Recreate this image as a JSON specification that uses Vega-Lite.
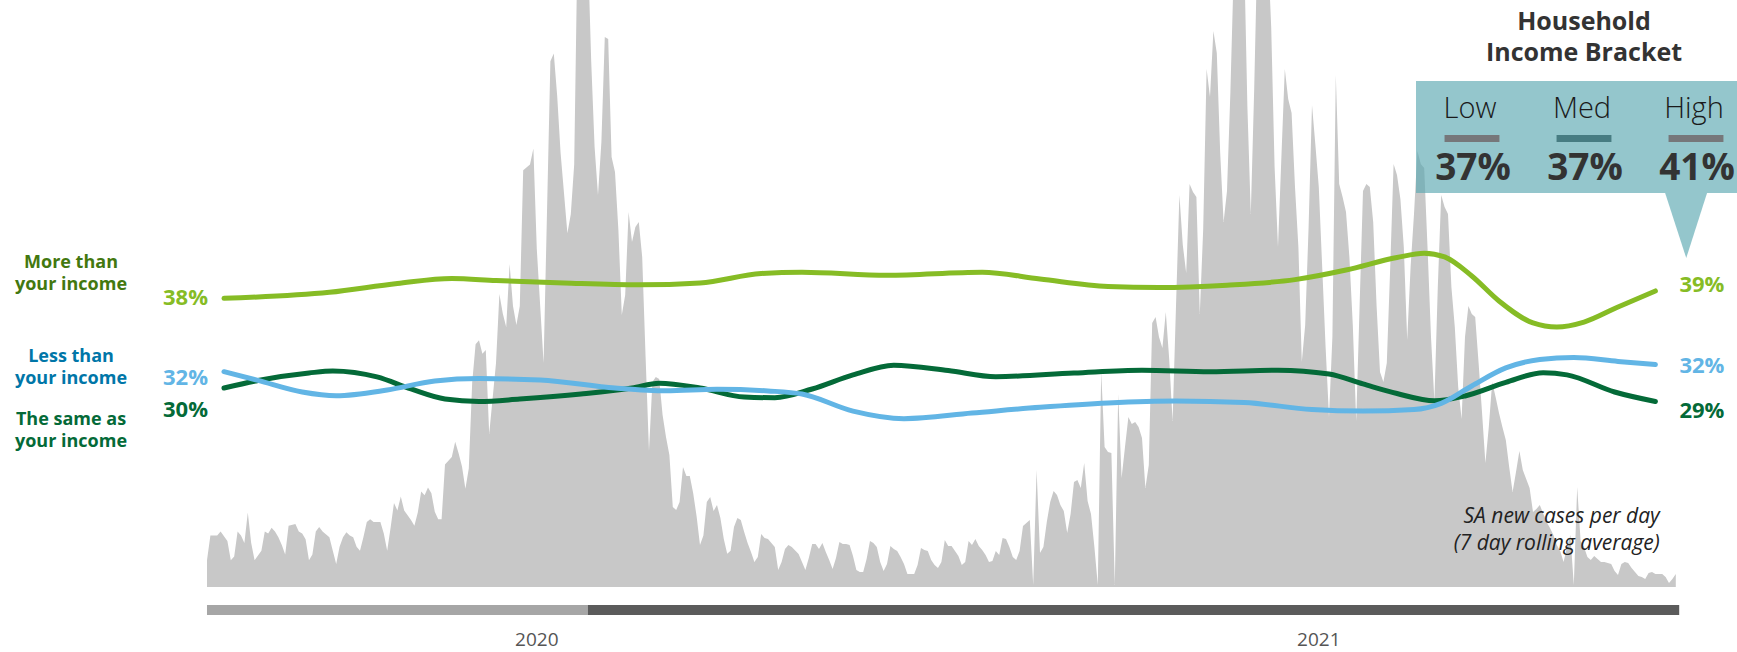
{
"$schema": "https://vega.github.io/schema/vega-lite/v6.json",
"width": 1737, "height": 652, "padding": 0,
"autosize": {"type": "fit", "contains": "padding"},
"background": "white",
"config": {"view": {"stroke": null}, "font": "Open Sans"},
"datasets": {
"cases": [
{"day":0,"cases":536},{"day":1,"cases":1032},{"day":3,"cases":1032},{"day":4,"cases":1110},{"day":6,"cases":918},{"day":7,"cases":536},{"day":8,"cases":612},{"day":9,"cases":1110},{"day":10,"cases":1032},{"day":11,"cases":880},{"day":12,"cases":1492},{"day":13,"cases":880},{"day":14,"cases":536},{"day":16,"cases":726},{"day":17,"cases":1110},{"day":18,"cases":1070},{"day":19,"cases":1186},{"day":20,"cases":1110},{"day":21,"cases":994},{"day":22,"cases":842},{"day":23,"cases":650},{"day":24,"cases":1224},{"day":26,"cases":1262},{"day":27,"cases":1110},{"day":28,"cases":1070},{"day":29,"cases":956},{"day":30,"cases":536},{"day":31,"cases":650},{"day":32,"cases":1110},{"day":33,"cases":1200},{"day":34,"cases":1110},{"day":36,"cases":994},{"day":37,"cases":726},{"day":38,"cases":458},{"day":39,"cases":804},{"day":40,"cases":994},{"day":41,"cases":1094},{"day":42,"cases":1032},{"day":43,"cases":994},{"day":44,"cases":804},{"day":45,"cases":726},{"day":46,"cases":994},{"day":47,"cases":1300},{"day":48,"cases":1354},{"day":49,"cases":1300},{"day":51,"cases":1300},{"day":52,"cases":1070},{"day":53,"cases":726},{"day":54,"cases":1186},{"day":55,"cases":1682},{"day":56,"cases":1530},{"day":57,"cases":1812},{"day":58,"cases":1530},{"day":60,"cases":1338},{"day":61,"cases":1224},{"day":62,"cases":1492},{"day":63,"cases":1912},{"day":64,"cases":1836},{"day":65,"cases":1988},{"day":66,"cases":1874},{"day":67,"cases":1506},{"day":68,"cases":1354},{"day":69,"cases":1354},{"day":70,"cases":2448},{"day":72,"cases":2600},{"day":73,"cases":2906},{"day":74,"cases":2676},{"day":75,"cases":2410},{"day":76,"cases":1966},{"day":77,"cases":2370},{"day":78,"cases":4092},{"day":79,"cases":4856},{"day":80,"cases":4934},{"day":81,"cases":4666},{"day":82,"cases":4742},{"day":83,"cases":3060},{"day":85,"cases":4474},{"day":86,"cases":5860},{"day":87,"cases":5468},{"day":88,"cases":5200},{"day":89,"cases":6462},{"day":90,"cases":5620},{"day":91,"cases":5240},{"day":92,"cases":5620},{"day":93,"cases":8336},{"day":95,"cases":8452},{"day":96,"cases":8772},{"day":97,"cases":6760},{"day":98,"cases":5620},{"day":99,"cases":4480},{"day":101,"cases":10516},{"day":102,"cases":10670},{"day":103,"cases":9820},{"day":104,"cases":8680},{"day":106,"cases":7074},{"day":107,"cases":7456},{"day":108,"cases":8452},{"day":109,"cases":13000},{"day":110,"cases":14400},{"day":111,"cases":14000},{"day":112,"cases":12800},{"day":113,"cases":10520},{"day":114,"cases":8800},{"day":115,"cases":7840},{"day":116,"cases":8900},{"day":117,"cases":11000},{"day":118,"cases":10960},{"day":119,"cases":8600},{"day":120,"cases":8300},{"day":121,"cases":7140},{"day":122,"cases":5440},{"day":123,"cases":5840},{"day":124,"cases":7500},{"day":125,"cases":6900},{"day":126,"cases":7200},{"day":127,"cases":7300},{"day":128,"cases":6600},{"day":129,"cases":4600},{"day":130,"cases":2720},{"day":131,"cases":4100},{"day":132,"cases":4200},{"day":133,"cases":4160},{"day":134,"cases":3440},{"day":135,"cases":3000},{"day":136,"cases":2640},{"day":137,"cases":1600},{"day":138,"cases":1540},{"day":139,"cases":1700},{"day":140,"cases":2400},{"day":141,"cases":2220},{"day":142,"cases":2220},{"day":143,"cases":1874},{"day":144,"cases":1414},{"day":145,"cases":842},{"day":146,"cases":1032},{"day":147,"cases":1700},{"day":148,"cases":1800},{"day":149,"cases":1520},{"day":150,"cases":1640},{"day":151,"cases":1380},{"day":152,"cases":960},{"day":153,"cases":666},{"day":154,"cases":726},{"day":155,"cases":1200},{"day":156,"cases":1380},{"day":157,"cases":1340},{"day":158,"cases":1100},{"day":159,"cases":880},{"day":160,"cases":700},{"day":161,"cases":500},{"day":162,"cases":600},{"day":163,"cases":1060},{"day":164,"cases":980},{"day":165,"cases":960},{"day":166,"cases":880},{"day":167,"cases":800},{"day":168,"cases":340},{"day":169,"cases":500},{"day":170,"cases":760},{"day":171,"cases":840},{"day":172,"cases":800},{"day":174,"cases":660},{"day":175,"cases":500},{"day":176,"cases":340},{"day":177,"cases":580},{"day":178,"cases":860},{"day":179,"cases":860},{"day":180,"cases":760},{"day":181,"cases":880},{"day":182,"cases":700},{"day":183,"cases":540},{"day":184,"cases":360},{"day":185,"cases":580},{"day":186,"cases":900},{"day":187,"cases":860},{"day":188,"cases":860},{"day":189,"cases":840},{"day":190,"cases":620},{"day":191,"cases":340},{"day":192,"cases":300},{"day":193,"cases":300},{"day":194,"cases":560},{"day":195,"cases":920},{"day":196,"cases":880},{"day":197,"cases":800},{"day":198,"cases":500},{"day":199,"cases":320},{"day":200,"cases":460},{"day":201,"cases":820},{"day":202,"cases":760},{"day":203,"cases":720},{"day":204,"cases":600},{"day":205,"cases":460},{"day":206,"cases":260},{"day":207,"cases":260},{"day":208,"cases":260},{"day":209,"cases":440},{"day":210,"cases":780},{"day":211,"cases":740},{"day":212,"cases":720},{"day":213,"cases":540},{"day":214,"cases":440},{"day":215,"cases":380},{"day":216,"cases":500},{"day":217,"cases":940},{"day":218,"cases":820},{"day":219,"cases":820},{"day":220,"cases":720},{"day":221,"cases":620},{"day":222,"cases":440},{"day":223,"cases":500},{"day":224,"cases":920},{"day":225,"cases":840},{"day":226,"cases":960},{"day":227,"cases":820},{"day":228,"cases":740},{"day":229,"cases":640},{"day":230,"cases":500},{"day":231,"cases":520},{"day":232,"cases":720},{"day":233,"cases":640},{"day":234,"cases":980},{"day":235,"cases":960},{"day":236,"cases":800},{"day":237,"cases":600},{"day":238,"cases":540},{"day":239,"cases":720},{"day":240,"cases":1220},{"day":241,"cases":1280},{"day":242,"cases":1340},{"day":243,"cases":40},{"day":244,"cases":2340},{"day":245,"cases":680},{"day":246,"cases":800},{"day":247,"cases":1300},{"day":248,"cases":1700},{"day":249,"cases":1920},{"day":250,"cases":1840},{"day":251,"cases":1640},{"day":252,"cases":1520},{"day":253,"cases":1080},{"day":254,"cases":1460},{"day":255,"cases":2100},{"day":256,"cases":2140},{"day":257,"cases":1980},{"day":258,"cases":2480},{"day":259,"cases":1720},{"day":260,"cases":1460},{"day":261,"cases":800},{"day":262,"cases":40},{"day":263,"cases":4300},{"day":264,"cases":2800},{"day":265,"cases":2700},{"day":266,"cases":2680},{"day":267,"cases":40},{"day":268,"cases":3860},{"day":269,"cases":2180},{"day":270,"cases":2800},{"day":271,"cases":3400},{"day":272,"cases":3260},{"day":273,"cases":3300},{"day":274,"cases":3200},{"day":275,"cases":2980},{"day":276,"cases":1980},{"day":277,"cases":2440},{"day":278,"cases":5280},{"day":279,"cases":5400},{"day":280,"cases":5000},{"day":281,"cases":4780},{"day":282,"cases":5500},{"day":283,"cases":4560},{"day":284,"cases":3320},{"day":285,"cases":5620},{"day":286,"cases":7840},{"day":287,"cases":6840},{"day":288,"cases":6280},{"day":289,"cases":8060},{"day":290,"cases":7900},{"day":291,"cases":7800},{"day":292,"cases":5460},{"day":293,"cases":7160},{"day":294,"cases":10360},{"day":295,"cases":9800},{"day":296,"cases":11120},{"day":297,"cases":10680},{"day":298,"cases":8680},{"day":299,"cases":7300},{"day":300,"cases":7920},{"day":301,"cases":9900},{"day":302,"cases":12400},{"day":303,"cases":14000},{"day":304,"cases":13800},{"day":305,"cases":12800},{"day":306,"cases":9600},{"day":307,"cases":7460},{"day":308,"cases":9960},{"day":309,"cases":13000},{"day":310,"cases":14400},{"day":311,"cases":14000},{"day":312,"cases":12800},{"day":313,"cases":11200},{"day":314,"cases":8400},{"day":315,"cases":6800},{"day":316,"cases":8600},{"day":317,"cases":10360},{"day":318,"cases":9760},{"day":319,"cases":9480},{"day":320,"cases":8000},{"day":321,"cases":6800},{"day":322,"cases":4500},{"day":323,"cases":5240},{"day":324,"cases":7200},{"day":325,"cases":9640},{"day":326,"cases":8840},{"day":327,"cases":8000},{"day":328,"cases":6400},{"day":329,"cases":4800},{"day":330,"cases":3400},{"day":331,"cases":5000},{"day":332,"cases":10240},{"day":333,"cases":8060},{"day":334,"cases":7800},{"day":335,"cases":7500},{"day":336,"cases":6600},{"day":337,"cases":5240},{"day":338,"cases":3320},{"day":339,"cases":5620},{"day":340,"cases":7920},{"day":341,"cases":8060},{"day":342,"cases":8000},{"day":343,"cases":7300},{"day":344,"cases":5620},{"day":345,"cases":4300},{"day":346,"cases":4100},{"day":347,"cases":4480},{"day":348,"cases":6380},{"day":349,"cases":8460},{"day":350,"cases":8240},{"day":351,"cases":7760},{"day":352,"cases":6800},{"day":353,"cases":4940},{"day":354,"cases":6400},{"day":355,"cases":7460},{"day":356,"cases":8720},{"day":357,"cases":8460},{"day":358,"cases":8380},{"day":359,"cases":6760},{"day":360,"cases":5000},{"day":361,"cases":3720},{"day":362,"cases":6000},{"day":363,"cases":7840},{"day":364,"cases":7600},{"day":365,"cases":7460},{"day":366,"cases":6000},{"day":367,"cases":5200},{"day":368,"cases":4000},{"day":369,"cases":3360},{"day":370,"cases":5000},{"day":371,"cases":5620},{"day":372,"cases":5460},{"day":373,"cases":5400},{"day":374,"cases":4480},{"day":375,"cases":3500},{"day":376,"cases":2480},{"day":377,"cases":3200},{"day":378,"cases":4100},{"day":379,"cases":3800},{"day":380,"cases":3480},{"day":381,"cases":3200},{"day":382,"cases":2940},{"day":383,"cases":2400},{"day":384,"cases":1900},{"day":385,"cases":2300},{"day":386,"cases":2720},{"day":387,"cases":2340},{"day":388,"cases":2160},{"day":389,"cases":1980},{"day":390,"cases":1500},{"day":391,"cases":1560},{"day":392,"cases":1640},{"day":394,"cases":1300},{"day":395,"cases":1180},{"day":396,"cases":1040},{"day":397,"cases":840},{"day":398,"cases":720},{"day":399,"cases":500},{"day":400,"cases":800},{"day":401,"cases":1040},{"day":402,"cases":40},{"day":403,"cases":2000},{"day":404,"cases":920},{"day":405,"cases":800},{"day":406,"cases":600},{"day":407,"cases":540},{"day":408,"cases":620},{"day":409,"cases":560},{"day":410,"cases":500},{"day":411,"cases":500},{"day":412,"cases":480},{"day":413,"cases":460},{"day":414,"cases":320},{"day":415,"cases":240},{"day":416,"cases":460},{"day":417,"cases":500},{"day":418,"cases":480},{"day":419,"cases":380},{"day":420,"cases":300},{"day":421,"cases":220},{"day":422,"cases":200},{"day":423,"cases":160},{"day":424,"cases":280},{"day":425,"cases":300},{"day":426,"cases":260},{"day":427,"cases":260},{"day":428,"cases":260},{"day":429,"cases":200},{"day":430,"cases":80},{"day":431,"cases":160},{"day":432,"cases":260}
],
"sentiment": [
{"series":"The same as your income","day":5,"pct":0.3029},{"series":"The same as your income","day":15,"pct":0.3094},{"series":"The same as your income","day":30,"pct":0.3158},{"series":"The same as your income","day":37,"pct":0.3175},{"series":"The same as your income","day":50,"pct":0.3124},{"series":"The same as your income","day":60,"pct":0.3021},{"series":"The same as your income","day":70,"pct":0.2935},{"series":"The same as your income","day":80,"pct":0.2914},{"series":"The same as your income","day":92,"pct":0.2935},{"series":"The same as your income","day":110,"pct":0.2978},{"series":"The same as your income","day":125,"pct":0.3029},{"series":"The same as your income","day":133,"pct":0.3070},{"series":"The same as your income","day":145,"pct":0.3029},{"series":"The same as your income","day":158,"pct":0.2952},{"series":"The same as your income","day":167,"pct":0.2946},{"series":"The same as your income","day":178,"pct":0.3021},{"series":"The same as your income","day":190,"pct":0.3141},{"series":"The same as your income","day":202,"pct":0.3225},{"series":"The same as your income","day":218,"pct":0.3179},{"series":"The same as your income","day":232,"pct":0.3126},{"series":"The same as your income","day":255,"pct":0.3158},{"series":"The same as your income","day":275,"pct":0.3182},{"series":"The same as your income","day":295,"pct":0.3169},{"series":"The same as your income","day":315,"pct":0.3182},{"series":"The same as your income","day":330,"pct":0.3149},{"series":"The same as your income","day":340,"pct":0.3064},{"series":"The same as your income","day":350,"pct":0.2982},{"series":"The same as your income","day":361,"pct":0.2920},{"series":"The same as your income","day":370,"pct":0.2961},{"series":"The same as your income","day":382,"pct":0.3077},{"series":"The same as your income","day":393,"pct":0.3160},{"series":"The same as your income","day":400,"pct":0.3142},{"series":"The same as your income","day":414,"pct":0.2995},{"series":"The same as your income","day":426,"pct":0.2914},
{"series":"Less than your income","day":5,"pct":0.3169},{"series":"Less than your income","day":15,"pct":0.3094},{"series":"Less than your income","day":28,"pct":0.2995},{"series":"Less than your income","day":38,"pct":0.2963},{"series":"Less than your income","day":53,"pct":0.3012},{"series":"Less than your income","day":67,"pct":0.3089},{"series":"Less than your income","day":80,"pct":0.3110},{"series":"Less than your income","day":98,"pct":0.3098},{"series":"Less than your income","day":120,"pct":0.3029},{"series":"Less than your income","day":135,"pct":0.3005},{"series":"Less than your income","day":150,"pct":0.3018},{"series":"Less than your income","day":165,"pct":0.3004},{"series":"Less than your income","day":175,"pct":0.2978},{"series":"Less than your income","day":190,"pct":0.2832},{"series":"Less than your income","day":205,"pct":0.2767},{"series":"Less than your income","day":225,"pct":0.2815},{"series":"Less than your income","day":245,"pct":0.2864},{"series":"Less than your income","day":265,"pct":0.2901},{"series":"Less than your income","day":285,"pct":0.2918},{"series":"Less than your income","day":305,"pct":0.2905},{"series":"Less than your income","day":325,"pct":0.2845},{"series":"Less than your income","day":340,"pct":0.2832},{"series":"Less than your income","day":355,"pct":0.2845},{"series":"Less than your income","day":363,"pct":0.2898},{"series":"Less than your income","day":372,"pct":0.3047},{"series":"Less than your income","day":382,"pct":0.3201},{"series":"Less than your income","day":392,"pct":0.3273},{"series":"Less than your income","day":402,"pct":0.3290},{"series":"Less than your income","day":415,"pct":0.3257},{"series":"Less than your income","day":426,"pct":0.3230},
{"series":"More than your income","day":5,"pct":0.3797},{"series":"More than your income","day":36,"pct":0.3848},{"series":"More than your income","day":56,"pct":0.3924},{"series":"More than your income","day":72,"pct":0.3967},{"series":"More than your income","day":85,"pct":0.3949},{"series":"More than your income","day":105,"pct":0.3928},{"series":"More than your income","day":127,"pct":0.3912},{"series":"More than your income","day":145,"pct":0.3928},{"series":"More than your income","day":163,"pct":0.4009},{"series":"More than your income","day":175,"pct":0.4020},{"series":"More than your income","day":200,"pct":0.3994},{"series":"More than your income","day":228,"pct":0.4020},{"series":"More than your income","day":245,"pct":0.3962},{"series":"More than your income","day":265,"pct":0.3898},{"series":"More than your income","day":280,"pct":0.3889},{"series":"More than your income","day":300,"pct":0.3909},{"series":"More than your income","day":320,"pct":0.3957},{"series":"More than your income","day":335,"pct":0.4039},{"series":"More than your income","day":350,"pct":0.4146},{"series":"More than your income","day":358,"pct":0.4183},{"series":"More than your income","day":364,"pct":0.4151},{"series":"More than your income","day":372,"pct":0.3988},{"series":"More than your income","day":380,"pct":0.3774},{"series":"More than your income","day":390,"pct":0.3586},{"series":"More than your income","day":397,"pct":0.3551},{"series":"More than your income","day":405,"pct":0.3594},{"series":"More than your income","day":415,"pct":0.3723},{"series":"More than your income","day":426,"pct":0.3860}
],
"years": [{"year":"2020","start":0,"end":112},{"year":"2021","start":112,"end":433}],
"brackets": [{"bracket":"Low","pct":0.37},{"bracket":"Med","pct":0.37},{"bracket":"High","pct":0.41}]
},
"layer": [
{
"layer": [
{"data":{"name":"cases"},"mark":{"type":"area","color":"#c8c8c8","clip":true,"interpolate":"linear"},
 "encoding":{"x":{"field":"day","type":"quantitative","scale":{"domain":[-60.88,450],"nice":false,"zero":false},"axis":null},
 "y":{"field":"cases","type":"quantitative","scale":{"domain":[-1300,11740],"nice":false,"zero":false},"axis":null}}},
{"data":{"name":"years"},"mark":{"type":"rect"},
 "encoding":{"x":{"field":"start","type":"quantitative","scale":{"domain":[-60.88,450],"nice":false,"zero":false},"axis":null},"x2":{"field":"end"},
 "y":{"datum":-360,"type":"quantitative","scale":{"domain":[-1300,11740],"nice":false,"zero":false},"axis":null},"y2":{"datum":-560},
 "color":{"field":"year","type":"nominal","scale":{"domain":["2020","2021"],"range":["#a6a6a6","#5b5b5b"]},"legend":null}}},
{"data":{"name":"years"},"transform":[{"filter":"datum.year == '2020'"}],"mark":{"type":"text","fontSize":19,"color":"#555555","baseline":"middle","align":"center"},
 "encoding":{"x":{"datum":97,"type":"quantitative","scale":{"domain":[-60.88,450],"nice":false,"zero":false},"axis":null},
 "y":{"datum":-1060,"type":"quantitative","scale":{"domain":[-1300,11740],"nice":false,"zero":false},"axis":null},"text":{"field":"year"}}},
{"data":{"name":"years"},"transform":[{"filter":"datum.year == '2021'"}],"mark":{"type":"text","fontSize":19,"color":"#555555","baseline":"middle","align":"center"},
 "encoding":{"x":{"datum":327,"type":"quantitative","scale":{"domain":[-60.88,450],"nice":false,"zero":false},"axis":null},
 "y":{"datum":-1060,"type":"quantitative","scale":{"domain":[-1300,11740],"nice":false,"zero":false},"axis":null},"text":{"field":"year"}}},
{"data":{"name":"cases"},"transform":[{"filter":"datum.day == 432"}],"mark":{"type":"text","align":"right","baseline":"middle","dx":-16,"dy":-57,"fontSize":21,"fontStyle":"italic","color":"#222222","lineHeight":27},
 "encoding":{"x":{"field":"day","type":"quantitative","scale":{"domain":[-60.88,450],"nice":false,"zero":false},"axis":null},
 "y":{"field":"cases","type":"quantitative","scale":{"domain":[-1300,11740],"nice":false,"zero":false},"axis":null},
 "text":{"value":["SA new cases per day","(7 day rolling average)"]}}}
]
},
{
"data":{"name":"sentiment"},
"encoding":{"x":{"field":"day","type":"quantitative","scale":{"domain":[-60.88,450],"nice":false,"zero":false},"axis":null},
 "y":{"field":"pct","type":"quantitative","scale":{"domain":[0.077,0.635],"nice":false,"zero":false},"axis":null}},
"layer": [
{"mark":{"type":"line","interpolate":"monotone","strokeWidth":5,"strokeCap":"round"},
 "encoding":{"color":{"field":"series","type":"nominal","scale":{"domain":["The same as your income","Less than your income","More than your income"],"range":["#046a38","#62b5e5","#86bc25"]},"legend":null}}},
{"transform":[{"filter":"datum.series == 'More than your income' && datum.day == 5"}],"mark":{"type":"text","align":"right","baseline":"middle","dx":-16,"dy":0,"fontSize":22,"fontWeight":"bold","color":"#86bc25"},"encoding":{"text":{"field":"pct","type":"quantitative","format":".0%"}}},
{"transform":[{"filter":"datum.series == 'Less than your income' && datum.day == 5"}],"mark":{"type":"text","align":"right","baseline":"middle","dx":-16,"dy":6,"fontSize":22,"fontWeight":"bold","color":"#62b5e5"},"encoding":{"text":{"field":"pct","type":"quantitative","format":".0%"}}},
{"transform":[{"filter":"datum.series == 'The same as your income' && datum.day == 5"}],"mark":{"type":"text","align":"right","baseline":"middle","dx":-16,"dy":22,"fontSize":22,"fontWeight":"bold","color":"#046a38"},"encoding":{"text":{"field":"pct","type":"quantitative","format":".0%"}}},
{"transform":[{"filter":"datum.series == 'More than your income' && datum.day == 426"}],"mark":{"type":"text","align":"left","baseline":"middle","dx":24,"dy":-6,"fontSize":22,"fontWeight":"bold","color":"#86bc25"},"encoding":{"text":{"field":"pct","type":"quantitative","format":".0%"}}},
{"transform":[{"filter":"datum.series == 'Less than your income' && datum.day == 426"}],"mark":{"type":"text","align":"left","baseline":"middle","dx":24,"dy":1,"fontSize":22,"fontWeight":"bold","color":"#62b5e5"},"encoding":{"text":{"field":"pct","type":"quantitative","format":".0%"}}},
{"transform":[{"filter":"datum.series == 'The same as your income' && datum.day == 426"}],"mark":{"type":"text","align":"left","baseline":"middle","dx":24,"dy":10,"fontSize":22,"fontWeight":"bold","color":"#046a38"},"encoding":{"text":{"field":"pct","type":"quantitative","format":".0%"}}},
{"transform":[{"filter":"datum.series == 'More than your income' && datum.day == 5"}],"mark":{"type":"text","align":"center","baseline":"middle","dx":-153,"dy":-35,"fontSize":18,"fontWeight":"bold","color":"#43780f","lineHeight":22},"encoding":{"text":{"value":["More than","your income"]}}},
{"transform":[{"filter":"datum.series == 'Less than your income' && datum.day == 5"}],"mark":{"type":"text","align":"center","baseline":"middle","dx":-153,"dy":-15,"fontSize":18,"fontWeight":"bold","color":"#0076a8","lineHeight":22},"encoding":{"text":{"value":["Less than","your income"]}}},
{"transform":[{"filter":"datum.series == 'The same as your income' && datum.day == 5"}],"mark":{"type":"text","align":"center","baseline":"middle","dx":-153,"dy":32,"fontSize":18,"fontWeight":"bold","color":"#046a38","lineHeight":22},"encoding":{"text":{"value":["The same as","your income"]}}}
]
},
{
"data":{"name":"brackets"},
"encoding":{"x":{"field":"bracket","type":"nominal","scale":{"type":"band","domain":["Low","Med","High"],"range":[1416,1752],"paddingInner":0,"paddingOuter":0},"axis":null}},
"layer": [
{"mark":{"type":"bar","color":"#5ba7b0","opacity":0.65,"clip":true},
 "encoding":{"y":{"datum":12.42,"type":"quantitative","scale":{"domain":[0,100],"reverse":true,"nice":false,"zero":false},"axis":null},"y2":{"datum":29.6}}},
{"transform":[{"filter":"datum.bracket == 'High'"}],"mark":{"type":"point","shape":"M-0.95,-1L0.34,-1L-0.3,1Z","size":4225,"filled":true,"color":"#5ba7b0","opacity":0.65,"strokeWidth":0},
 "encoding":{"y":{"datum":34.59,"type":"quantitative","scale":{"domain":[0,100],"reverse":true,"nice":false,"zero":false},"axis":null}}},
{"mark":{"type":"text","fontSize":29,"fontWeight":300,"color":"#1a1a1a","baseline":"middle","dx":-2},
 "encoding":{"y":{"datum":16.67,"type":"quantitative","scale":{"domain":[0,100],"reverse":true,"nice":false,"zero":false},"axis":null},"text":{"field":"bracket"}}},
{"mark":{"type":"bar","width":{"band":0.49}},
 "encoding":{"y":{"datum":20.71,"type":"quantitative","scale":{"domain":[0,100],"reverse":true,"nice":false,"zero":false},"axis":null},"y2":{"datum":21.78},
 "color":{"field":"bracket","type":"nominal","scale":{"domain":["Low","Med","High"],"range":["#76777a","#477c82","#76777a"]},"legend":null}}},
{"mark":{"type":"text","fontSize":37,"fontWeight":"bold","color":"#333333","baseline":"middle","dx":1},
 "encoding":{"y":{"datum":25.92,"type":"quantitative","scale":{"domain":[0,100],"reverse":true,"nice":false,"zero":false},"axis":null},"text":{"field":"pct","type":"quantitative","format":".0%"}}},
{"transform":[{"filter":"datum.bracket == 'Med'"}],"mark":{"type":"text","fontSize":25,"fontWeight":"bold","color":"#333333","baseline":"middle","lineHeight":31},
 "encoding":{"y":{"datum":3.37,"type":"quantitative","scale":{"domain":[0,100],"reverse":true,"nice":false,"zero":false},"axis":null},"text":{"value":["Household","Income Bracket"]}}}
]
}
],
"resolve":{"scale":{"x":"independent","y":"independent","color":"independent"}}
}
